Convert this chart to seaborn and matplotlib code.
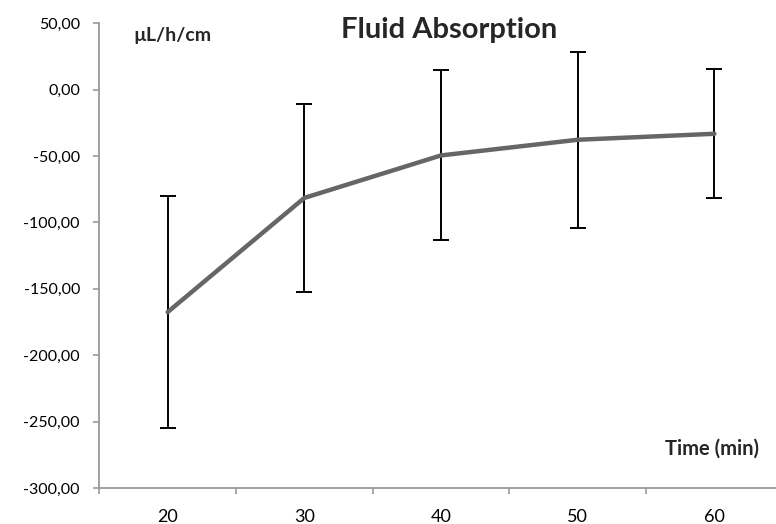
import matplotlib
matplotlib.use('Agg')
import matplotlib.pyplot as plt
import matplotlib.ticker as mticker
import pandas as pd
import seaborn as sns

# values
times = [20, 30, 40, 50, 60]
mean_absorption = [-167.5, -81.5, -49.5, -37.7, -33.2]
err_absorption = [87.5, 70.5, 64.0, 66.3, 48.5]

df = pd.DataFrame({'time': times, 'absorption': mean_absorption, 'err': err_absorption})

sns.set_theme(style='white')
plt.rcParams['font.family'] = ['Lato', 'DejaVu Sans']

fig = plt.figure(figsize=(7.76, 5.24), dpi=100)
ax = fig.add_axes([0.128, 0.0687, 0.8807, 0.8868])

ax.errorbar(df['time'], df['absorption'], yerr=df['err'], fmt='none',
            ecolor='black', elinewidth=1.4, capsize=6, capthick=1.4, zorder=2)
sns.lineplot(data=df, x='time', y='absorption', ax=ax, color='#666666',
             linewidth=3.2, zorder=3)

ax.set_xlim(15, 65)
ax.set_ylim(-300, 50)
ax.set_xticks(times)
ax.set_xticklabels([str(t) for t in times])
ax.set_xticks([15, 25, 35, 45, 55, 65], minor=True)
ax.set_yticks(range(-300, 51, 50))
ax.yaxis.set_major_formatter(mticker.FuncFormatter(lambda v, p: f'{v:.2f}'.replace('.', ',')))

ax.tick_params(axis='x', which='major', length=0, pad=15, labelsize=13, colors='black')
ax.tick_params(axis='x', which='minor', length=4.5, width=1.2, color='#999999', direction='out', bottom=True)
ax.tick_params(axis='y', which='major', length=4.5, width=1.2, color='#999999', direction='out',
               left=True, pad=9.5, labelsize=11.5, labelcolor='black')

for s in ['top', 'right']:
    ax.spines[s].set_visible(False)
for s in ['left', 'bottom']:
    ax.spines[s].set_color('#999999')
    ax.spines[s].set_linewidth(1.3)

ax.set_xlabel('')
ax.set_ylabel('')

fig.text(449 / 776, 1 - 30 / 524, 'Fluid Absorption', ha='center', va='center',
         fontsize=21, fontweight='bold')
fig.text(133 / 776, 1 - 35 / 524, 'µL/h/cm', ha='left', va='center',
         fontsize=14, fontweight='bold')
fig.text(759 / 776, 1 - 449 / 524, 'Time (min)', ha='right', va='center',
         fontsize=14.5, fontweight='bold')

fig.savefig('out.png', dpi=100)
